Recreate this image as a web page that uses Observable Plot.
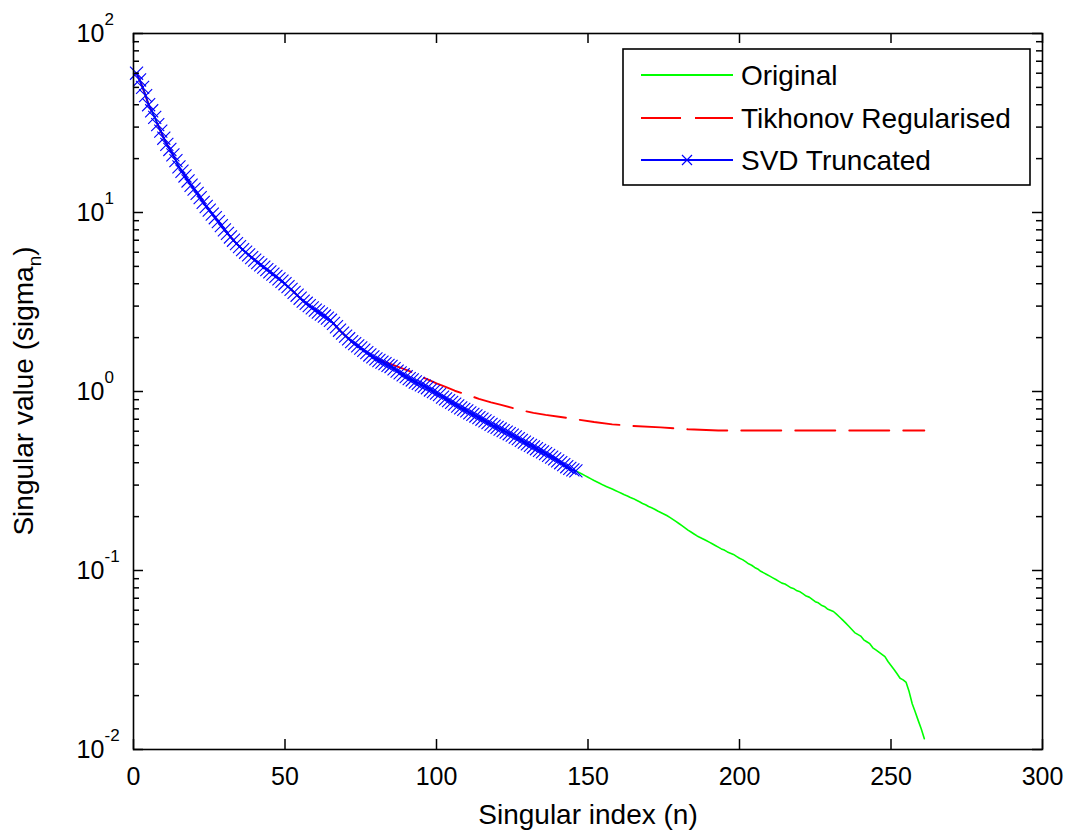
<!DOCTYPE html>
<html>
<head>
<meta charset="utf-8">
<script src="https://cdn.jsdelivr.net/npm/d3@7"></script>
<script src="https://cdn.jsdelivr.net/npm/@observablehq/plot@0.6"></script>
<style>
  html, body { margin: 0; padding: 0; background: #fff; }
  #chart { width: 1072px; height: 831px; }
</style>
</head>
<body>
<div id="chart"></div>
<script>
// ---- Data ----
// singular values sigma_n for n = 1..146 (also drawn as the SVD truncated series)
const sigmaHead = [
  60, 55, 50, 45, 40, 37, 34, 31, 28.5, 26,
  24, 22.5, 21, 19.5, 18, 17, 16, 15, 14.2, 13.5,
  12.8, 12.1, 11.4, 10.8, 10.3, 9.8, 9.35, 8.9, 8.45, 8.0,
  7.65, 7.3, 7.0, 6.7, 6.45, 6.2, 6.0, 5.8, 5.6, 5.42,
  5.25, 5.1, 4.95, 4.8, 4.66, 4.53, 4.4, 4.26, 4.13, 4.0,
  3.85, 3.72, 3.58, 3.45, 3.32, 3.2, 3.11, 3.02, 2.93, 2.85,
  2.78, 2.71, 2.64, 2.57, 2.5, 2.4, 2.3, 2.2, 2.12, 2.04,
  1.97, 1.9, 1.85, 1.8, 1.75, 1.7, 1.65, 1.6, 1.56, 1.52,
  1.49, 1.46, 1.43, 1.4, 1.38, 1.34, 1.3, 1.27, 1.24, 1.21,
  1.18, 1.16, 1.13, 1.11, 1.09, 1.07, 1.05, 1.02, 1.0, 0.98,
  0.96, 0.93, 0.91, 0.89, 0.87, 0.85, 0.83, 0.81, 0.795, 0.78,
  0.76, 0.745, 0.73, 0.715, 0.70, 0.685, 0.67, 0.655, 0.64, 0.63,
  0.617, 0.605, 0.593, 0.581, 0.57, 0.557, 0.545, 0.533, 0.521, 0.51,
  0.5, 0.49, 0.479, 0.469, 0.46, 0.45, 0.44, 0.43, 0.42, 0.41,
  0.4, 0.39, 0.38, 0.372, 0.365, 0.36
];
// singular values sigma_n for n = 147..261 (only visible on the Original curve)
const sigmaTail = [
  0.353, 0.346, 0.339, 0.332, 0.325, 0.318, 0.312, 0.306, 0.3, 0.295,
  0.29, 0.285, 0.28, 0.275, 0.27, 0.265, 0.261, 0.256, 0.252, 0.247,
  0.242, 0.237, 0.233, 0.228, 0.224, 0.22, 0.215, 0.211, 0.207, 0.203,
  0.198, 0.193, 0.188, 0.183, 0.178, 0.173, 0.168, 0.164, 0.16, 0.156,
  0.153, 0.15, 0.147, 0.144, 0.141, 0.138, 0.135, 0.132, 0.13, 0.127,
  0.125, 0.123, 0.12, 0.117, 0.115, 0.112, 0.109, 0.107, 0.104, 0.102,
  0.099, 0.097, 0.095, 0.093, 0.091, 0.089, 0.087, 0.085, 0.084, 0.082,
  0.08, 0.079, 0.077, 0.076, 0.074, 0.072, 0.071, 0.069, 0.067, 0.066,
  0.064, 0.063, 0.061, 0.06, 0.059, 0.057, 0.055, 0.053, 0.051, 0.049,
  0.047, 0.045, 0.044, 0.043, 0.041, 0.04, 0.039, 0.037, 0.036, 0.035,
  0.034, 0.033, 0.031, 0.0295, 0.028, 0.0265, 0.025, 0.0245, 0.0237, 0.021,
  0.018, 0.0162, 0.0145, 0.013, 0.0115
];
// Tikhonov regularised singular values
const tikN = [1,2,3,5,8,10,13,15,18,21,25,28,30,34,38,43,47,50,56,60,65,68,72,76,80,83,85,88,90,92,95,98,100,103,106,110,114,118,121,125,128,132,136,141,146,152,158,165,174,183,193,205,220,240,261];
const tikV = [60,55,50,40,31,26,21,18,15,12.8,10.3,8.9,8.0,6.7,5.8,4.95,4.4,4.0,3.2,2.85,2.5,2.2,1.9,1.7,1.53,1.46,1.42,1.36,1.32,1.28,1.21,1.15,1.11,1.06,1.01,0.96,0.91,0.87,0.845,0.81,0.785,0.76,0.74,0.72,0.7,0.675,0.655,0.642,0.63,0.615,0.606,0.605,0.605,0.605,0.605];

const seriesNames = ["Original", "Tikhonov Regularised", "SVD Truncated"];
const seriesColors = ["#00ff00", "#ff0000", "#0000ff"];

const xTicks = [0, 50, 100, 150, 200, 250, 300];
const yMajor = [0.01, 0.1, 1, 10, 100];
const yExponents = ["-2", "-1", "0", "1", "2"];
const yMinor = [0.02,0.03,0.04,0.05,0.06,0.07,0.08,0.09, 0.2,0.3,0.4,0.5,0.6,0.7,0.8,0.9, 2,3,4,5,6,7,8,9, 20,30,40,50,60,70,80,90];
const xLabel = "Singular index (n)";

// ---- Build tables ----
const original = [...sigmaHead, ...sigmaTail].map((v, i) => ({n: i + 1, v}));
const svd = sigmaHead.map((v, i) => ({n: i + 1, v}));
const tik = tikN.map((n, i) => ({n, v: tikV[i]}));

const W = 1072, H = 831;
const mL = 133, mR = 30, mT = 33, mB = 82;
const innerW = W - mL - mR, innerH = H - mT - mB;
const font = "'Liberation Sans', Arial, Helvetica, sans-serif";

const chart = Plot.plot({
  width: W, height: H,
  marginLeft: mL, marginRight: mR, marginTop: mT, marginBottom: mB,
  style: {fontFamily: font, background: "#fff", color: "#000"},
  x: {domain: [0, 300], axis: null},
  y: {type: "log", domain: [0.01, 100], axis: null},
  marks: [
    // data
    Plot.line(original, {x: "n", y: "v", stroke: seriesColors[0], strokeWidth: 1.6}),
    Plot.line(tik, {x: "n", y: "v", stroke: seriesColors[1], strokeWidth: 1.9, strokeDasharray: "40,14"}),
    Plot.line(svd, {x: "n", y: "v", stroke: seriesColors[2], strokeWidth: 1.6}),
    Plot.dot(svd, {x: "n", y: "v", symbol: "times", r: 6, stroke: seriesColors[2], strokeWidth: 1.1}),
    // frame
    Plot.frame({stroke: "#000", strokeWidth: 1.6}),
    // inward ticks
    Plot.tickX(xTicks, {x: d => d, stroke: "#000", strokeWidth: 1.5, insetTop: innerH - 10}),
    Plot.tickX(xTicks, {x: d => d, stroke: "#000", strokeWidth: 1.5, insetBottom: innerH - 10}),
    Plot.tickY(yMajor, {y: d => d, stroke: "#000", strokeWidth: 1.5, insetRight: innerW - 10}),
    Plot.tickY(yMajor, {y: d => d, stroke: "#000", strokeWidth: 1.5, insetLeft: innerW - 10}),
    Plot.tickY(yMinor, {y: d => d, stroke: "#000", strokeWidth: 1.5, insetRight: innerW - 6}),
    Plot.tickY(yMinor, {y: d => d, stroke: "#000", strokeWidth: 1.5, insetLeft: innerW - 6}),
    // x tick labels
    Plot.text(xTicks, {x: d => d, text: d => String(d), frameAnchor: "bottom", dy: 27, lineAnchor: "middle", fontSize: 25, fill: "#000"}),
    // y tick labels: 10 with superscript exponent
    Plot.text(yMajor, {y: d => d, text: () => "10", frameAnchor: "left", textAnchor: "start", dx: -57, lineAnchor: "middle", fontSize: 25, fill: "#000"}),
    Plot.text(yMajor, {y: d => d, text: (d, i) => yExponents[i], frameAnchor: "left", textAnchor: "start", dx: -29, dy: -14, lineAnchor: "middle", fontSize: 17, fill: "#000"}),
    // x axis label
    Plot.text([xLabel], {text: d => d, frameAnchor: "bottom", dy: 66, lineAnchor: "middle", fontSize: 28, fill: "#000"})
  ]
});

const svg = d3.select(chart);
// y axis label with subscript
const yl = svg.append("text")
  .attr("transform", `translate(33,${mT + innerH / 2}) rotate(-90)`)
  .attr("text-anchor", "middle")
  .attr("font-family", font)
  .attr("font-size", 28)
  .attr("fill", "#000");
yl.append("tspan").text("Singular value (sigma");
yl.append("tspan").attr("font-size", 19).attr("dy", 8).text("n");
yl.append("tspan").attr("dy", -8).text(")");

// legend box (inside the plot area, upper right)
const lg = svg.append("g");
const lx = 623, ly = 49, lw = 407, lh = 136;
lg.append("rect").attr("x", lx).attr("y", ly).attr("width", lw).attr("height", lh)
  .attr("fill", "#fff").attr("stroke", "#000").attr("stroke-width", 1.6);
const rowY = [75, 118, 160];
seriesNames.forEach((name, i) => {
  const y = rowY[i];
  const ln = lg.append("line").attr("x1", 641).attr("x2", 733).attr("y1", y).attr("y2", y)
    .attr("stroke", seriesColors[i]).attr("stroke-width", 1.8);
  if (i === 1) ln.attr("stroke-dasharray", "40,14");
  if (i === 2) {
    lg.append("path").attr("d", `M${682},${y-5}L${692},${y+5}M${682},${y+5}L${692},${y-5}`)
      .attr("stroke", seriesColors[i]).attr("stroke-width", 1.2).attr("fill", "none");
  }
  lg.append("text").attr("x", 741).attr("y", y).attr("dy", "0.35em")
    .attr("text-anchor", "start")
    .attr("font-family", font).attr("font-size", 28).attr("fill", "#000").text(name);
});

document.getElementById("chart").appendChild(chart);
</script>
</body>
</html>
